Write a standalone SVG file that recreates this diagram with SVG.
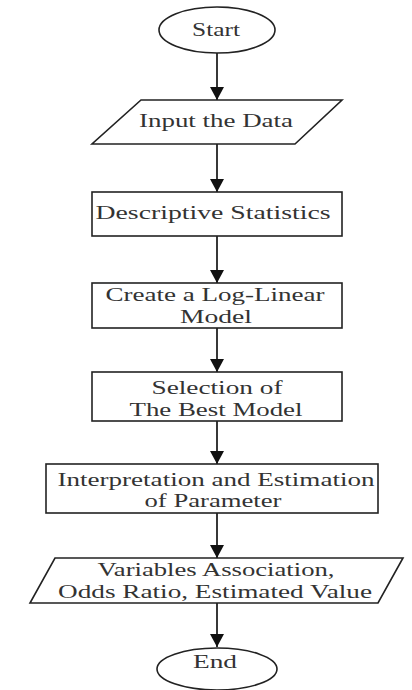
<svg xmlns="http://www.w3.org/2000/svg" width="412" height="690" viewBox="0 0 412 690">
<style>
.s{fill:#fff;stroke:#222;stroke-width:1.6}
.t{font-family:"Liberation Serif","DejaVu Serif",serif;font-size:19.5px;fill:#333;text-anchor:middle}
.c{stroke:#222;stroke-width:1.8;fill:none;marker-end:url(#ah)}
</style>
<defs>
<marker id="ah" markerUnits="userSpaceOnUse" markerWidth="16" markerHeight="14" refX="13" refY="7" orient="auto">
<path d="M0,0 L13,7 L0,14 Z" fill="#111"/>
</marker>
</defs>
<rect width="412" height="690" fill="#fff"/>
<g id="connectors">
<line class="c" x1="217" y1="53" x2="217" y2="100"/>
<line class="c" x1="217" y1="144" x2="217" y2="192"/>
<line class="c" x1="217" y1="236" x2="217" y2="283"/>
<line class="c" x1="217" y1="328" x2="217" y2="372"/>
<line class="c" x1="217" y1="421" x2="217" y2="464"/>
<line class="c" x1="217" y1="513" x2="217" y2="558"/>
<line class="c" x1="217" y1="603" x2="217" y2="647"/>
</g>
<g id="start">
<ellipse class="s" cx="217" cy="30" rx="58" ry="23"/>
<text class="t" x="216" y="36" textLength="48" lengthAdjust="spacingAndGlyphs">Start</text>
</g>
<g id="input">
<polygon class="s" points="141,100 342,100 295,144 92,144"/>
<text class="t" x="216" y="127" textLength="154" lengthAdjust="spacingAndGlyphs">Input the Data</text>
</g>
<g id="descriptive">
<rect class="s" x="92" y="192" width="250" height="44"/>
<text class="t" x="213" y="219" textLength="235" lengthAdjust="spacingAndGlyphs">Descriptive Statistics</text>
</g>
<g id="create">
<rect class="s" x="92" y="283" width="250" height="45"/>
<text class="t" x="215" y="301" textLength="219" lengthAdjust="spacingAndGlyphs">Create a Log-Linear</text>
<text class="t" x="216" y="323" textLength="72" lengthAdjust="spacingAndGlyphs">Model</text>
</g>
<g id="selection">
<rect class="s" x="92" y="372" width="250" height="49"/>
<text class="t" x="217" y="394" textLength="131" lengthAdjust="spacingAndGlyphs">Selection of</text>
<text class="t" x="216" y="416" textLength="173" lengthAdjust="spacingAndGlyphs">The Best Model</text>
</g>
<g id="interpretation">
<rect class="s" x="46" y="464" width="332" height="49"/>
<text class="t" x="216" y="486" textLength="317" lengthAdjust="spacingAndGlyphs">Interpretation and Estimation</text>
<text class="t" x="213" y="507" textLength="137" lengthAdjust="spacingAndGlyphs">of Parameter</text>
</g>
<g id="output">
<polygon class="s" points="55,558 403,558 378,603 30,603"/>
<text class="t" x="216" y="576" textLength="237" lengthAdjust="spacingAndGlyphs">Variables Association,</text>
<text class="t" x="215" y="598" textLength="314" lengthAdjust="spacingAndGlyphs">Odds Ratio, Estimated Value</text>
</g>
<g id="end">
<ellipse class="s" cx="217" cy="669" rx="60" ry="21"/>
<text class="t" x="215" y="668" textLength="44" lengthAdjust="spacingAndGlyphs">End</text>
</g>
</svg>
